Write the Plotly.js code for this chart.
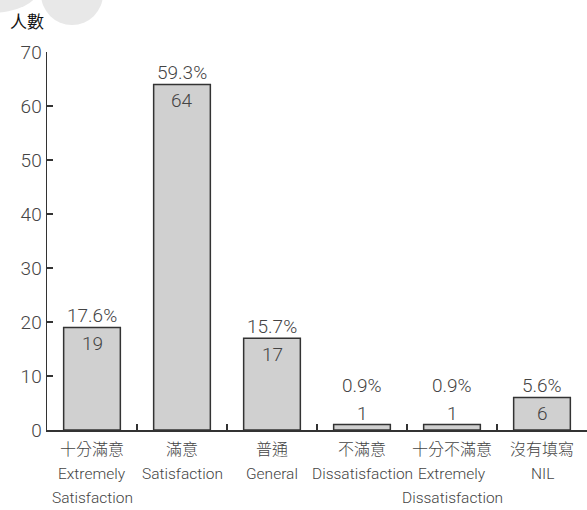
<!DOCTYPE html>
<html>
<head>
<meta charset="utf-8">
<script src="https://cdn.plot.ly/plotly-3.0.1.min.js"></script>
<style>html,body{margin:0;padding:0;background:#fff;}#chart{width:587px;height:510px;}</style>
</head>
<body>
<div id="chart"></div>
<script>
var categoriesZh = ["十分滿意", "滿意", "普通", "不滿意", "十分不滿意", "沒有填寫"];
var categoriesEn = [["Extremely", "Satisfaction"], ["Satisfaction"], ["General"], ["Dissatisfaction"], ["Extremely", "Dissatisfaction"], ["NIL"]];
var counts = [19, 64, 17, 1, 1, 6];
var percents = ["17.6%", "59.3%", "15.7%", "0.9%", "0.9%", "5.6%"];
var yTicks = [0, 10, 20, 30, 40, 50, 60, 70];
var yTitle = "人數";

var latin = "Roboto, Liberation Sans, sans-serif";
var cjk = "Noto Sans CJK TC";
var W = 540, H = 378, L = 47, T = 52;
function px(x){ return (x - L) / W; }
function py(y){ return (T + H - y) / H; }

var ids = categoriesZh.map(function(c, i){ return "c" + i; });

var trace = {
  type: "bar",
  x: ids,
  y: counts,
  width: 0.63,
  marker: {color: "#d0d0d0", line: {color: "#333333", width: 1.5}},
  hoverinfo: "none"
};

var annotations = [];
ids.forEach(function(id, i){
  var anchor = Math.max(counts[i], 6);
  annotations.push({x: id, y: anchor, xref: "x", yref: "y", text: String(counts[i]), showarrow: false,
    yanchor: "middle", yshift: -16, font: {family: latin, size: 19, weight: 300, color: "#444444"}});
  annotations.push({x: id, y: anchor, xref: "x", yref: "y", text: percents[i], showarrow: false,
    yanchor: "middle", yshift: 12, font: {family: latin, size: 19, weight: 300, color: "#444444"}});
  annotations.push({x: id, y: 0, xref: "x", yref: "paper", text: categoriesZh[i], showarrow: false,
    yanchor: "middle", yshift: -18, font: {family: cjk, size: 16, weight: 300, color: "#444444"}});
  categoriesEn[i].forEach(function(line, j){
    annotations.push({x: id, y: 0, xref: "x", yref: "paper", text: line, showarrow: false,
      yanchor: "middle", yshift: -44 - 24 * j, font: {family: latin, size: 15.5, weight: 300, color: "#444444"}});
  });
});
annotations.push({x: px(8), y: py(20), xref: "paper", yref: "paper", text: yTitle, showarrow: false,
  xanchor: "left", yanchor: "middle", font: {family: cjk, size: 17, color: "#111111"}});

var layout = {
  width: 587, height: 510,
  margin: {l: L, r: 0, t: T, b: 510 - T - H, pad: 0},
  paper_bgcolor: "#ffffff", plot_bgcolor: "#ffffff",
  showlegend: false,
  xaxis: {
    type: "category", showticklabels: false,
    tickson: "boundaries", ticks: "inside", ticklen: 6, tickwidth: 1.5, tickcolor: "#333333",
    showline: true, linecolor: "#333333", linewidth: 1.5, showgrid: false, zeroline: false,
    fixedrange: true
  },
  yaxis: {
    range: [0, 70], tickmode: "array", tickvals: yTicks,
    ticks: "inside", ticklen: 6, tickwidth: 1.5, tickcolor: "#333333",
    showline: true, linecolor: "#333333", linewidth: 1.5, showgrid: false, zeroline: false,
    tickfont: {family: latin, size: 19, weight: 300, color: "#444444"}, fixedrange: true
  },
  shapes: [
    {type: "circle", xref: "paper", yref: "paper", layer: "below",
     x0: px(-58), x1: px(38), y0: py(13), y1: py(-33), fillcolor: "#e8e8e8", line: {width: 0}},
    {type: "circle", xref: "paper", yref: "paper", layer: "below",
     x0: px(41), x1: px(103), y0: py(25), y1: py(-37), fillcolor: "#e8e8e8", line: {width: 0}}
  ],
  annotations: annotations
};

Plotly.newPlot("chart", [trace], layout, {staticPlot: true, displayModeBar: false});
</script>
</body>
</html>
